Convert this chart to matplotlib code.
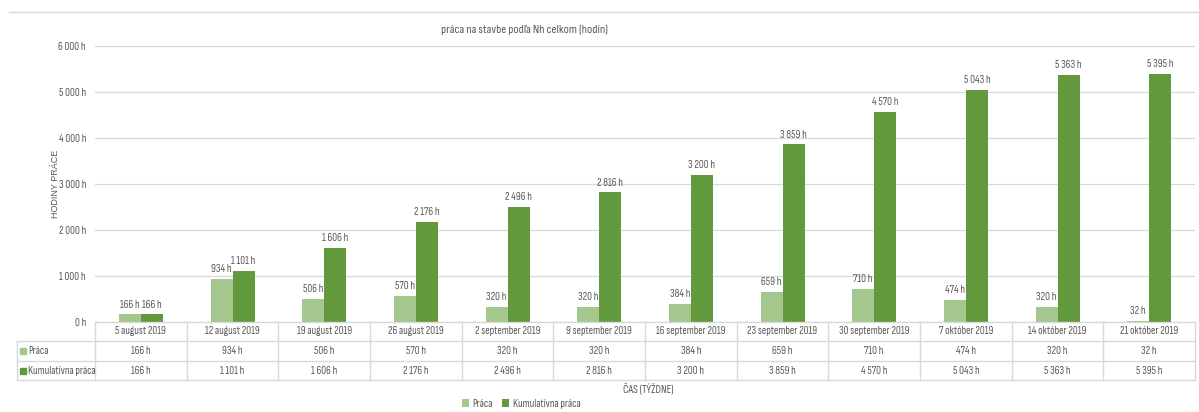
import matplotlib
matplotlib.use("Agg")
import matplotlib.pyplot as plt
from matplotlib.lines import Line2D
from matplotlib.patches import Rectangle
from matplotlib import transforms

plt.rcParams['font.family'] = ['Sofia Sans Condensed', 'DejaVu Sans']

categories = ["5 august 2019", "12 august 2019", "19 august 2019", "26 august 2019",
              "2 september 2019", "9 september 2019", "16 september 2019", "23 september 2019",
              "30 september 2019", "7 október 2019", "14 október 2019", "21 október 2019"]
praca = [166, 934, 506, 570, 320, 320, 384, 659, 710, 474, 320, 32]
kumulativna = [166, 1101, 1606, 2176, 2496, 2816, 3200, 3859, 4570, 5043, 5363, 5395]
series_names = ["Práca", "Kumulatívna práca"]
yticks = [0, 1000, 2000, 3000, 4000, 5000, 6000]

C_LIGHT = "#A3C78C"
C_DARK = "#62993D"
TXT = "#595959"
GRID = "#D9D9D9"
FS = 7.9

W, H = 1199, 412
fig = plt.figure(figsize=(W / 100, H / 100), dpi=100)

def fx(px): return px / W
def fy(py): return 1 - py / H

L, R, T, B = 95, 1195, 46, 322
ax = fig.add_axes([fx(L), fy(B), fx(R) - fx(L), fy(T) - fy(B)])

def fmt(v):
    return f"{v:,}".replace(",", " ") + " h"

n = len(categories)
xs = list(range(n))
bw = 0.24
ax.bar([x - bw / 2 for x in xs], praca, width=bw, color=C_LIGHT, label=series_names[0], zorder=3)
ax.bar([x + bw / 2 for x in xs], kumulativna, width=bw, color=C_DARK, label=series_names[1], zorder=3)

for x, v in zip(xs, praca):
    ax.annotate(fmt(v), (x - bw / 2, v), xytext=(0, 3.5), textcoords="offset points",
                ha="center", va="bottom", fontsize=FS, color=TXT)
for x, v in zip(xs, kumulativna):
    ax.annotate(fmt(v), (x + bw / 2, v), xytext=(0, 3.5), textcoords="offset points",
                ha="center", va="bottom", fontsize=FS, color=TXT)

ax.set_xlim(-0.5, n - 0.5)
ax.set_ylim(0, 6000)
ax.set_yticks(yticks)
ax.set_yticklabels([fmt(v) for v in yticks], fontsize=FS, color=TXT)
ax.set_xticks([])
ax.tick_params(axis="y", length=0, pad=6.5)
ax.yaxis.grid(True, color=GRID, linewidth=0.9, zorder=0)
for s in ax.spines.values():
    s.set_visible(False)

# y label
fig.text(fx(55), fy(184), "HODINY PRÁCE", rotation=90, ha="center", va="center",
         fontsize=6.5, color=TXT, family=['Liberation Sans', 'DejaVu Sans'])

# title
fig.text(fx(524), fy(30), "práca na stavbe podľa Nh celkom (hodín)", ha="center", va="center",
         fontsize=8.9, color=TXT)

# top border line
fig.add_artist(Line2D([fx(9), fx(1199)], [fy(12), fy(12)], color=GRID, linewidth=1.0))

# table
tr = transforms.blended_transform_factory(ax.transData, fig.transFigure)
rows_y = [322, 341, 361, 380]
lc = "#D9D9D9"
fig.add_artist(Line2D([fx(L), fx(R)], [fy(322), fy(322)], color=lc, linewidth=1.0))
for yy in rows_y[1:]:
    fig.add_artist(Line2D([fx(17), fx(R)], [fy(yy), fy(yy)], color=lc, linewidth=1.0))
for i in range(n + 1):
    xd = i - 0.5
    ax.add_line(Line2D([xd, xd], [fy(322), fy(380)], transform=tr, color=lc, linewidth=1.0,
                       clip_on=False))
fig.add_artist(Line2D([fx(17), fx(17)], [fy(341), fy(380)], color=lc, linewidth=1.0))

for x, c in zip(xs, categories):
    ax.text(x, fy(331.5), c, transform=tr, ha="center", va="center", fontsize=FS, color=TXT)
for x, v in zip(xs, praca):
    ax.text(x, fy(351), fmt(v), transform=tr, ha="center", va="center", fontsize=FS, color=TXT)
for x, v in zip(xs, kumulativna):
    ax.text(x, fy(370.5), fmt(v), transform=tr, ha="center", va="center", fontsize=FS, color=TXT)
for yy, name, col in [(351, series_names[0], C_LIGHT), (370.5, series_names[1], C_DARK)]:
    fig.add_artist(Rectangle((fx(20), fy(yy + 3)), fx(6), fy(yy - 3) - fy(yy + 3),
                             color=col, transform=fig.transFigure))
    fig.text(fx(28), fy(yy), name, ha="left", va="center", fontsize=FS, color=TXT)

# x axis title
fig.text(fx(648), fy(389), "ČAS (TÝŽDNE)", ha="center", va="center", fontsize=FS, color=TXT)

# legend
fig.legend(loc="center", bbox_to_anchor=(fx(521), fy(404)), ncol=2, frameon=False,
           fontsize=FS, handlelength=0.7, handleheight=0.7, handletextpad=0.3,
           columnspacing=0.8, labelcolor=TXT)

fig.savefig("out.png", dpi=100)
